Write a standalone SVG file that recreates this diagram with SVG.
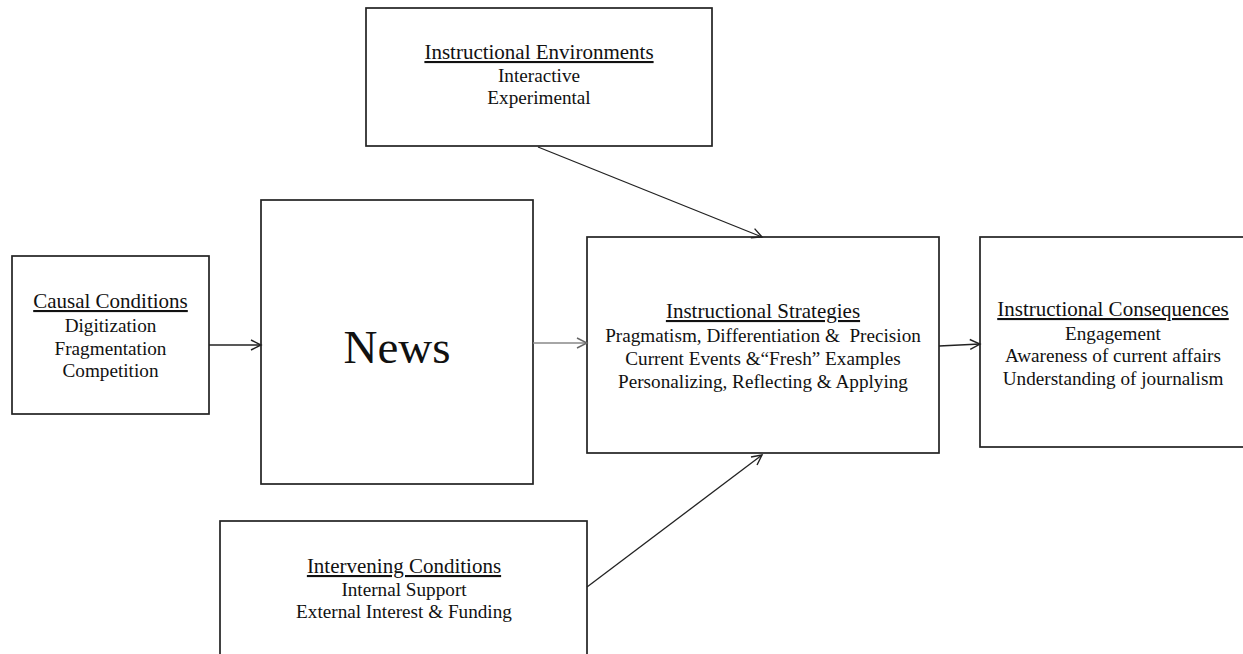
<svg xmlns="http://www.w3.org/2000/svg" width="1243" height="654" viewBox="0 0 1243 654">
<style>
.box{fill:#fff;stroke:#222;stroke-width:1.7}
.t{font-family:"Liberation Serif","Times New Roman",serif;font-size:21px;fill:#111;text-anchor:middle;text-decoration:underline}
.i{font-family:"Liberation Serif","Times New Roman",serif;font-size:19.2px;fill:#111;text-anchor:middle}
.news{font-family:"Liberation Serif","Times New Roman",serif;font-size:47px;fill:#111;text-anchor:middle}
.c{fill:none;stroke:#222;stroke-width:1.3}
</style>
<defs>
<marker id="ah" markerUnits="userSpaceOnUse" markerWidth="14" markerHeight="14" refX="11" refY="6" orient="auto">
<path d="M1,1 L11,6 L1,11" fill="none" stroke="#222" stroke-width="1.4"/>
</marker>
<marker id="ahg" markerUnits="userSpaceOnUse" markerWidth="14" markerHeight="14" refX="11" refY="6" orient="auto">
<path d="M1,1 L11,6 L1,11" fill="none" stroke="#666" stroke-width="1.4"/>
</marker>
</defs>
<rect width="1243" height="654" fill="#fff"/>
<g id="env">
<rect class="box" x="366" y="8" width="346" height="138"/>
<text class="t" x="539" y="59">Instructional Environments</text>
<text class="i" x="539" y="82">Interactive</text>
<text class="i" x="539" y="104">Experimental</text>
</g>
<g id="causal">
<rect class="box" x="12" y="256" width="197" height="158"/>
<text class="t" x="110.5" y="308">Causal Conditions</text>
<text class="i" x="110.5" y="332">Digitization</text>
<text class="i" x="110.5" y="355">Fragmentation</text>
<text class="i" x="110.5" y="377">Competition</text>
</g>
<g id="news">
<rect class="box" x="261" y="200" width="272" height="284"/>
<text class="news" x="397" y="363">News</text>
</g>
<g id="strategies">
<rect class="box" x="587" y="237" width="352" height="216"/>
<text class="t" x="763" y="318">Instructional Strategies</text>
<text class="i" x="763" y="342" xml:space="preserve">Pragmatism, Differentiation &amp;  Precision</text>
<text class="i" x="763" y="365">Current Events &amp;“Fresh” Examples</text>
<text class="i" x="763" y="388">Personalizing, Reflecting &amp; Applying</text>
</g>
<g id="consequences">
<rect class="box" x="980" y="237" width="266" height="210"/>
<text class="t" x="1113" y="316">Instructional Consequences</text>
<text class="i" x="1113" y="340">Engagement</text>
<text class="i" x="1113" y="362">Awareness of current affairs</text>
<text class="i" x="1113" y="385">Understanding of journalism</text>
</g>
<g id="intervening">
<rect class="box" x="220" y="521" width="367" height="150"/>
<text class="t" x="404" y="573">Intervening Conditions</text>
<text class="i" x="404" y="596">Internal Support</text>
<text class="i" x="404" y="618">External Interest &amp; Funding</text>
</g>
<g id="connectors">
<line class="c" x1="209" y1="345" x2="261" y2="345" marker-end="url(#ah)"/>
<line class="c" x1="533" y1="343" x2="587" y2="343" style="stroke:#888" marker-end="url(#ahg)"/>
<line class="c" x1="939" y1="346" x2="980" y2="344" marker-end="url(#ah)"/>
<line class="c" x1="538" y1="147" x2="762" y2="237" marker-end="url(#ah)"/>
<line class="c" x1="587" y1="587" x2="762" y2="455" marker-end="url(#ah)"/>
</g>
</svg>
